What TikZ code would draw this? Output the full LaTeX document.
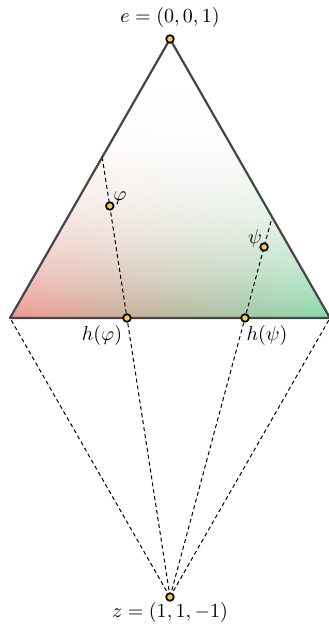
\documentclass[tikz,border=0pt]{standalone}
\definecolor{cred}{RGB}{238,152,146}
\definecolor{cgreen}{RGB}{136,216,172}
\definecolor{cmid}{RGB}{210,192,172}
\definecolor{edgegray}{RGB}{70,70,70}
\definecolor{dotyellow}{RGB}{250,200,80}
\begin{document}
\begin{tikzpicture}[x=0.5pt,y=-0.5pt,
  edge/.style={draw=edgegray, line width=1.1pt, line join=round},
  proj/.style={draw=black, line width=0.5pt, dash pattern=on 2pt off 1.5pt},
  pt/.style={circle, draw=black, fill=dotyellow, line width=0.85pt, inner sep=0pt, minimum size=3.8pt},
  lbl/.style={inner sep=0pt}]
\useasboundingbox (0,0) rectangle (328,630);
\coordinate (e) at (170,39);
\coordinate (A) at (10,318);
\coordinate (B) at (330,318);
\coordinate (z) at (170,597);
\coordinate (hphi) at (127,318);
\coordinate (hpsi) at (245,318);
\coordinate (phitop) at (102.2,157.2);
\coordinate (psitop) at (272.1,217.1);
\coordinate (phi) at (109.8,206);
\coordinate (psi) at (264.1,247);
\begin{scope}
\clip (A) -- (B) -- (e) -- cycle;
\foreach \i in {0,...,69}{
  \pgfmathsetmacro{\ya}{39+\i*3.9857}
  \pgfmathsetmacro{\yb}{\ya+4.6}
  \pgfmathsetmacro{\p}{100*((\i+0.5)/70)^3}
  \shade[left color=cred!\p!white, middle color=cmid!\p!white, right color=cgreen!\p!white] (10,\ya) rectangle (330,\yb);
}
\end{scope}
\draw[proj] (z) -- (A);
\draw[proj] (z) -- (B);
\draw[proj] (z) -- (phitop);
\draw[proj] (z) -- (psitop);
\draw[edge] (A) -- (B) -- (e) -- cycle;
\node[pt] (E) at (e) {};
\node[pt] (Z) at (z) {};
\node[pt] (HPHI) at (hphi) {};
\node[pt] (HPSI) at (hpsi) {};
\node[pt] (PHI) at (phi) {};
\node[pt] (PSI) at (psi) {};
\node[lbl] (elbl) at (170,18) {$e=(0,0,1)$};
\node[lbl] (zlbl) at (170,612) {$z=(1,1,-1)$};
\node[lbl] (hphilbl) at (102,335) {$h(\varphi)$};
\node[lbl] (hpsilbl) at (267,335) {$h(\psi)$};
\node[lbl] (philbl) at (120,198) {$\varphi$};
\node[lbl] (psilbl) at (255,238) {$\psi$};
\end{tikzpicture}
\end{document}
